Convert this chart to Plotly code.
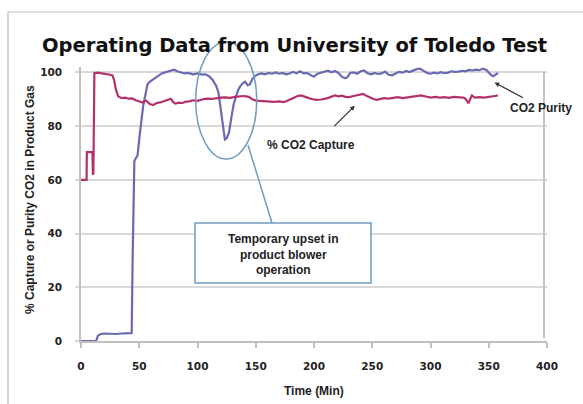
import plotly.graph_objects as go

# ---- data ----
purity_t = [0, 13, 14.5, 17, 20, 25, 30, 35, 40, 43.5, 44.3, 45, 45.8, 47, 48.5, 50.5, 52, 53.5, 55, 57,
            59, 62, 65, 69, 72, 76, 80, 83, 86, 89, 92, 96, 100, 104, 107, 110, 113, 116, 118, 120,
            122, 123.5, 125, 127, 129, 131, 133, 135, 137, 139, 141, 143, 145, 147, 149, 152, 155, 158, 161, 164,
            167, 170, 173, 176, 179, 182, 185, 188, 191, 194, 197, 200, 203, 206, 209, 212, 215, 218, 221, 224,
            227, 229, 231, 234, 237, 240, 243, 246, 249, 252, 255, 258, 261, 264, 267, 270, 273, 276, 279, 282,
            285, 288, 291, 294, 297, 300, 303, 306, 309, 312, 315, 318, 321, 324, 327, 330, 333, 336, 339, 342,
            345, 348, 350, 352, 354, 356, 358]
purity_v = [0, 0, 2, 2.6, 2.8, 2.7, 2.6, 2.8, 2.8, 2.9, 30, 55, 67, 68, 69, 77, 83, 88, 91, 95.5,
            96.5, 97.5, 98.5, 99.5, 100, 100.5, 101, 100.3, 100, 99.6, 99.8, 99.3, 99.6, 99.2, 99.3, 98.5, 97.2, 95, 92.5, 86,
            78, 75, 75.5, 77.5, 83, 88, 91, 93.5, 95, 96, 96.5, 95.2, 95.5, 97.5, 98.5, 99.3, 99.6, 99.3, 99.8, 99.5,
            100, 99.5, 99.8, 99.3, 99.6, 100.2, 99.7, 100.4, 99.6, 99.8, 99, 98.4, 99.5, 99.8, 100.2, 100.6, 100, 100.5, 99.8, 98.3,
            97.8, 98.4, 99.8, 100, 99.5, 100.4, 100.7, 99.7, 99.3, 99.8, 99.4, 99.6, 100.3, 99.1, 98.9, 99.7, 100.2, 99.9, 100.5, 100.1,
            100.8, 101.2, 101.4, 100.6, 99.8, 99.5, 99.9, 99.6, 100.1, 99.7, 99.9, 100.4, 100.2, 100.3, 100.6, 100.4, 100.9, 100.7, 101, 100.8,
            101.4, 100.9, 100, 99, 98.6, 99.3, 99.8]

capture_t = [0, 4.8, 5, 9.8, 10.2, 10.6, 11.5, 15, 18, 21, 24, 27, 28.5, 30, 32, 35, 38, 41, 44, 47,
             50, 53, 56, 59, 62, 65, 68, 71, 74, 77, 79, 81, 84, 87, 90, 93, 96, 100, 104, 108,
             112, 116, 120, 124, 128, 132, 136, 140, 144, 147, 150, 154, 158, 162, 166, 170, 174, 178, 182, 186,
             189, 192, 195, 198, 202, 206, 210, 214, 218, 221, 224, 227, 230, 234, 238, 242, 245, 248, 251, 254,
             257, 260, 264, 268, 272, 276, 280, 284, 288, 292, 296, 300, 304, 308, 312, 316, 320, 324, 328, 330,
             332.5, 334, 335.5, 338, 342, 346, 350, 354, 358]
capture_v = [60, 60, 70.3, 70.3, 62.2, 62, 99.8, 99.9, 99.6, 99.5, 99.2, 98.9, 97, 93.5, 91, 90.4, 90.6, 90.2, 90.3, 89.6,
             89.3, 88.8, 89.5, 88.2, 87.8, 88.6, 88.8, 89.3, 89.8, 90.2, 89, 88.4, 88.7, 88.6, 89.1, 89.2, 89.6, 89.4, 89.9, 90.2,
             90.1, 90.4, 90.6, 90.7, 90.5, 90.9, 91, 91.2, 90.9, 90, 89.5, 89.4, 89.3, 89.1, 89, 89.2, 88.9, 89.6, 90.3, 91.2,
             91.4, 90.8, 90.5, 90.1, 89.8, 89.9, 90.2, 90.8, 91.4, 91.1, 91.3, 90.9, 90.8, 91.2, 91.6, 92, 91.3, 90.6, 90.1, 89.8,
             90, 90.4, 90.2, 90.5, 90.8, 90.4, 90.7, 91, 91.2, 91.4, 91, 90.6, 90.9, 90.6, 90.8, 90.5, 90.9, 90.7, 90.6, 90.2,
             88.5, 90, 91.4, 90.6, 90.8, 90.6, 90.9, 91.2, 91.4]

x_ticks = [0, 50, 100, 150, 200, 250, 300, 350, 400]
y_ticks = [0, 20, 40, 60, 80, 100]

title_text = "Operating Data from University of Toledo Test"
x_title = "Time (Min)"
y_title = "% Capture or Purity CO2 in Product Gas"
note_text = "Temporary upset in<br>product blower<br>operation"

PURPLE = "#6a6ab2"
MAGENTA = "#b3306b"
STEEL = "#6f9cc2"
GRID = "#d9d9d9"
AXIS = "#bfbfbf"

fig = go.Figure()
fig.add_trace(go.Scatter(x=purity_t, y=purity_v, mode="lines", name="CO2 Purity",
                         line=dict(color=PURPLE, width=2.2)))
fig.add_trace(go.Scatter(x=capture_t, y=capture_v, mode="lines", name="% CO2 Capture",
                         line=dict(color=MAGENTA, width=2.2)))

tickfont = dict(family="DejaVu Sans", size=10.5, color="#222", weight="bold")

fig.update_layout(
    width=583, height=404,
    margin=dict(l=81, r=36, t=67, b=63, autoexpand=False),
    paper_bgcolor="white", plot_bgcolor="white",
    showlegend=False,
    xaxis=dict(range=[0, 400], tickvals=x_ticks, showgrid=False, zeroline=False,
               showline=True, linecolor=AXIS, linewidth=1.5,
               ticks="outside", ticklen=5, tickcolor=AXIS, tickwidth=1.5,
               tickfont=tickfont, ticklabelstandoff=10),
    yaxis=dict(range=[0, 102], tickvals=y_ticks, showgrid=True, gridcolor=GRID, gridwidth=1.5,
               zeroline=False, showline=True, linecolor=AXIS, linewidth=1.5,
               ticks="outside", ticklen=4, tickcolor=GRID, tickwidth=1.5,
               tickfont=tickfont, ticklabelstandoff=11),
)

def px(xp):
    return (xp - 81) / 466.0

def py(yp):
    return (341 - yp) / 274.0

shapes = [
    # outer chart frame (left/top visible)
    dict(type="rect", xref="paper", yref="paper", x0=px(8), x1=px(600), y0=py(420), y1=py(12),
         line=dict(color=AXIS, width=1.2), layer="below"),
    # right plot border
    dict(type="line", xref="paper", yref="paper", x0=px(544), x1=px(544), y0=py(338), y1=py(72),
         line=dict(color=AXIS, width=1.8)),
    # ellipse around upset
    dict(type="circle", xref="paper", yref="paper", x0=px(195.7), x1=px(256.7), y0=py(159), y1=py(42),
         line=dict(color=STEEL, width=1.5)),
    # connector
    dict(type="line", xref="paper", yref="paper", x0=px(248), x1=px(272), y0=py(145), y1=py(223),
         line=dict(color=STEEL, width=1.5)),
    # callout box
    dict(type="rect", xref="paper", yref="paper", x0=px(195), x1=px(371), y0=py(283), y1=py(223),
         line=dict(color=STEEL, width=1.5), fillcolor="white"),
]
fig.update_layout(shapes=shapes)

ann_font = dict(family="Liberation Sans", size=12, color="#222", weight="bold")
fig.add_annotation(xref="paper", yref="paper", x=px(294), y=py(45), text=title_text, showarrow=False,
                   font=dict(family="DejaVu Sans", size=19.5, color="#111", weight="bold"),
                   xanchor="center", yanchor="middle")
fig.add_annotation(xref="paper", yref="paper", x=px(314), y=py(391), text=x_title, showarrow=False,
                   font=ann_font, xanchor="center", yanchor="middle")
fig.add_annotation(xref="paper", yref="paper", x=px(30), y=py(200), text=y_title, showarrow=False,
                   font=ann_font, textangle=-90, xanchor="center", yanchor="middle")
fig.add_annotation(xref="paper", yref="paper", x=px(283), y=py(254), text=note_text, showarrow=False,
                   font=ann_font, xanchor="center", yanchor="middle")

# labels with pointer arrows
fig.add_annotation(xref="paper", yref="paper", x=px(541), y=py(108), text="CO2 Purity", showarrow=False,
                   font=ann_font, xanchor="center", yanchor="middle")
fig.add_annotation(x=purity_t[-3] + 1, y=96.2, text="", showarrow=True, ax=30, ay=16,
                   arrowhead=2, arrowsize=0.8, arrowwidth=1.2, arrowcolor="#333")
fig.add_annotation(xref="paper", yref="paper", x=px(311), y=py(145), text="% CO2 Capture", showarrow=False,
                   font=ann_font, xanchor="center", yanchor="middle")
fig.add_annotation(x=235, y=87.6, text="", showarrow=True, ax=-22, ay=22,
                   arrowhead=2, arrowsize=0.8, arrowwidth=1.2, arrowcolor="#333")

fig.write_html("out.html", config={"displayModeBar": False},
               post_script="document.body.style.margin='0';")
